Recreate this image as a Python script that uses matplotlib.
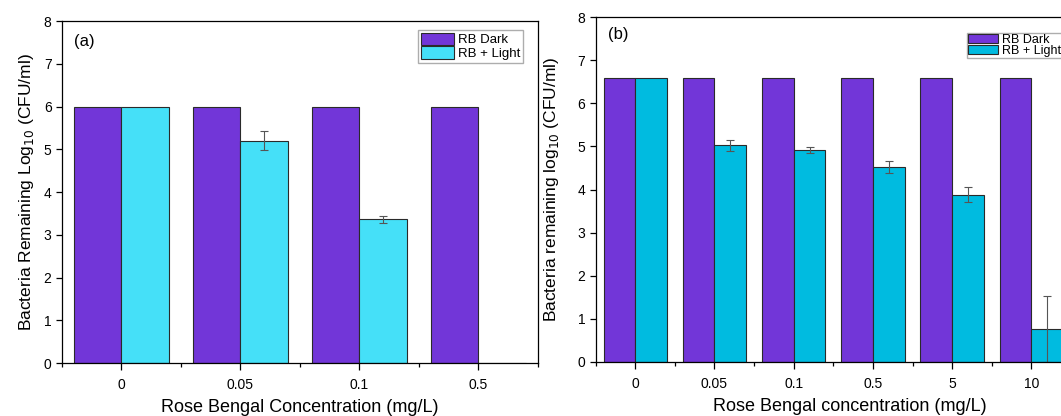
import matplotlib.pyplot as plt
import numpy as np
from matplotlib.ticker import FixedLocator

plt.rcParams['font.family'] = ['Liberation Sans', 'DejaVu Sans']

# panel (a)
conc_a = ['0', '0.05', '0.1', '0.5']
dark_a = [6, 6, 6, 6]
light_a = [6, 5.2, 3.36, 0]
err_a = [0, 0.22, 0.09, 0]

# panel (b)
conc_b = ['0', '0.05', '0.1', '0.5', '5', '10']
dark_b = [6.6, 6.6, 6.6, 6.6, 6.6, 6.6]
light_b = [6.6, 5.03, 4.91, 4.52, 3.88, 0.76]
err_b = [0, 0.13, 0.07, 0.14, 0.18, 0.76]

purple = '#7236D8'
cyan_a = '#45E0F8'
cyan_b = '#00BBE0'

fig = plt.figure(figsize=(10.61, 4.16), dpi=100)
ax1 = fig.add_axes([0.0584, 0.1274, 0.4486, 0.8221])
ax2 = fig.add_axes([0.5614, 0.1305, 0.448, 0.8279])


def draw(ax, cats, dark, light, err, cyan, ylabel, xlabel, tag, tag_y):
    x = np.arange(len(cats))
    w = 0.4
    ax.bar(x - w / 2, dark, w, color=purple, edgecolor='#2a2a2a', linewidth=0.8, label='RB Dark')
    lv = np.array(light, dtype=float)
    ax.bar(x + w / 2, lv, w, color=cyan, edgecolor='#2a2a2a', linewidth=0.8, label='RB + Light')
    mask = np.array(err) > 0
    ax.errorbar((x + w / 2)[mask], lv[mask], yerr=np.array(err)[mask], fmt='none',
                ecolor='#555555', elinewidth=0.8, capsize=3, capthick=0.8)
    ax.set_xlim(-0.5, len(cats) - 0.5)
    ax.set_ylim(0, 8)
    ax.set_yticks(range(0, 9))
    ax.set_xticks(x)
    ax.set_xticklabels(cats)
    ax.xaxis.set_minor_locator(FixedLocator(np.arange(-0.5, len(cats), 1.0)))
    ax.tick_params(which='major', direction='out', length=4, width=0.9, labelsize=10)
    ax.tick_params(which='minor', direction='out', length=3, width=0.9)
    ax.tick_params(axis='x', which='major', length=5, pad=6)
    for s in ax.spines.values():
        s.set_linewidth(0.9)
    ax.set_ylabel(ylabel, fontsize=12.5)
    ax.set_xlabel(xlabel, fontsize=13)
    ax.text(0.025, tag_y, tag, transform=ax.transAxes, fontsize=12, va='center', ha='left')
    return ax


draw(ax1, conc_a, dark_a, light_a, err_a, cyan_a,
     'Bacteria Remaining Log$_{10}$ (CFU/ml)', 'Rose Bengal Concentration (mg/L)', '(a)', 0.94)
draw(ax2, conc_b, dark_b, light_b, err_b, cyan_b,
     'Bacteria remaining log$_{10}$ (CFU/ml)', 'Rose Bengal concentration (mg/L)', '(b)', 0.95)

leg1 = ax1.legend(loc='upper right', bbox_to_anchor=(0.9685, 0.9737), fontsize=9.5,
                  frameon=True, fancybox=False, edgecolor='#999999', borderpad=0.2,
                  handlelength=2.5, handleheight=1.05, handletextpad=0.3,
                  labelspacing=0.0, borderaxespad=0)
leg1.get_frame().set_linewidth(1.0)
leg2 = ax2.legend(loc='upper right', bbox_to_anchor=(0.981, 0.955), fontsize=9,
                  frameon=True, fancybox=False, edgecolor='#999999', borderpad=0.1,
                  handlelength=2.4, handleheight=0.75, handletextpad=0.3,
                  labelspacing=-0.1, borderaxespad=0)
leg2.get_frame().set_linewidth(1.0)

ax1.yaxis.set_label_coords(-0.054, 0.5)
ax1.xaxis.set_label_coords(0.5, -0.105)
ax2.yaxis.set_label_coords(-0.072, 0.5)
ax2.xaxis.set_label_coords(0.535, -0.105)

fig.savefig('out.png', dpi=100)
